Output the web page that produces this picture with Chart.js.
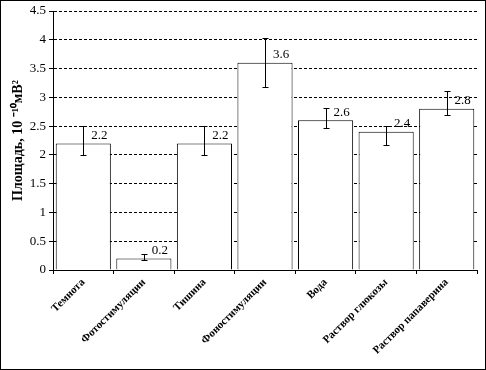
<!DOCTYPE html>
<html>
<head>
<meta charset="utf-8">
<script src="https://cdn.jsdelivr.net/npm/chart.js@4.4.1/dist/chart.umd.min.js"></script>
<style>
html,body{margin:0;padding:0;background:#fff;}
#wrap{width:486px;height:370px;position:relative;}
</style>
</head>
<body>
<div id="wrap"><canvas id="c" width="486" height="370"></canvas></div>
<script>
const categories = ["Темнота","Фотостимуляции","Тишина","Фоностимуляции","Вода","Раствор глюкозы","Раствор папаверина"];
const values = [2.2, 0.2, 2.2, 3.6, 2.6, 2.4, 2.8];
const errLow = [2.0, 0.17, 2.0, 3.18, 2.47, 2.17, 2.69];
const errHigh = [2.5, 0.27, 2.5, 4.03, 2.81, 2.5, 3.11];
const yTicks = [0, 0.5, 1, 1.5, 2, 2.5, 3, 3.5, 4, 4.5];
const yTitle = "Площадь, 10 ⁻¹⁰мВ²";

const SERIF = "'Liberation Serif','Times New Roman',serif";

const framePlugin = {
  id: 'frame',
  beforeDraw(chart) {
    const ctx = chart.ctx;
    ctx.save();
    ctx.fillStyle = '#fff';
    ctx.fillRect(0, 0, chart.width, chart.height);
    ctx.restore();
  },
  afterDraw(chart) {
    const ctx = chart.ctx;
    ctx.save();
    ctx.strokeStyle = '#000';
    ctx.lineWidth = 1;
    ctx.strokeRect(0.5, 0.5, chart.width - 1, chart.height - 1);
    ctx.restore();
  }
};

const errPlugin = {
  id: 'errbars',
  afterDatasetsDraw(chart) {
    const ctx = chart.ctx;
    const meta = chart.getDatasetMeta(0);
    const ys = chart.scales.y;
    ctx.save();
    ctx.strokeStyle = '#000';
    ctx.lineWidth = 1;
    meta.data.forEach((bar, i) => {
      const x = Math.round(bar.x) + 0.5;
      const yl = Math.round(ys.getPixelForValue(errLow[i])) + 0.5;
      const yh = Math.round(ys.getPixelForValue(errHigh[i])) + 0.5;
      ctx.beginPath();
      ctx.moveTo(x, yl); ctx.lineTo(x, yh);
      ctx.moveTo(x - 3, yl); ctx.lineTo(x + 3, yl);
      ctx.moveTo(x - 3, yh); ctx.lineTo(x + 3, yh);
      ctx.stroke();
      ctx.fillStyle = '#000';
      ctx.font = '13px ' + SERIF;
      ctx.textAlign = 'center';
      ctx.textBaseline = 'middle';
      ctx.fillText(String(values[i]), bar.x + 16, bar.y - 8);
    });
    ctx.restore();
  }
};

new Chart(document.getElementById('c'), {
  type: 'bar',
  data: {
    labels: categories,
    datasets: [{
      data: values,
      backgroundColor: '#fff',
      borderColor: '#000',
      borderWidth: 1,
      barPercentage: 0.91,
      categoryPercentage: 1.0
    }]
  },
  options: {
    responsive: false,
    animation: false,
    events: [],
    layout: { padding: { left: 4, right: 9, top: 11, bottom: 0 } },
    plugins: { legend: { display: false }, tooltip: { enabled: false } },
    scales: {
      x: {
        offset: true,
        grid: {
          display: true,
          drawOnChartArea: false,
          drawTicks: true,
          tickLength: 4,
          offset: true,
          color: '#000'
        },
        border: { display: true, color: '#000', width: 1 },
        ticks: {
          autoSkip: false,
          maxRotation: 45,
          minRotation: 45,
          color: '#000',
          padding: 2,
          font: { family: SERIF, size: 11, weight: 'bold' }
        },
        afterFit(s) { s.height = 100; }
      },
      y: {
        min: 0,
        max: 4.5,
        afterBuildTicks(s) { s.ticks = yTicks.map(v => ({ value: v })); },
        grid: {
          color: '#000',
          lineWidth: 1,
          drawTicks: true,
          tickLength: 4,
          tickBorderDash: []
        },
        border: { display: true, color: '#000', width: 1, dash: [3, 2] },
        ticks: {
          color: '#000',
          padding: 3,
          font: { family: SERIF, size: 13 },
          callback: v => String(v)
        },
        title: {
          display: true,
          text: yTitle,
          color: '#000',
          padding: { top: 6, bottom: 0 },
          font: { family: SERIF, size: 14, weight: 'bold' }
        },
        afterFit(s) { s.width = 49; }
      }
    }
  },
  plugins: [framePlugin, errPlugin]
});
</script>
</body>
</html>
